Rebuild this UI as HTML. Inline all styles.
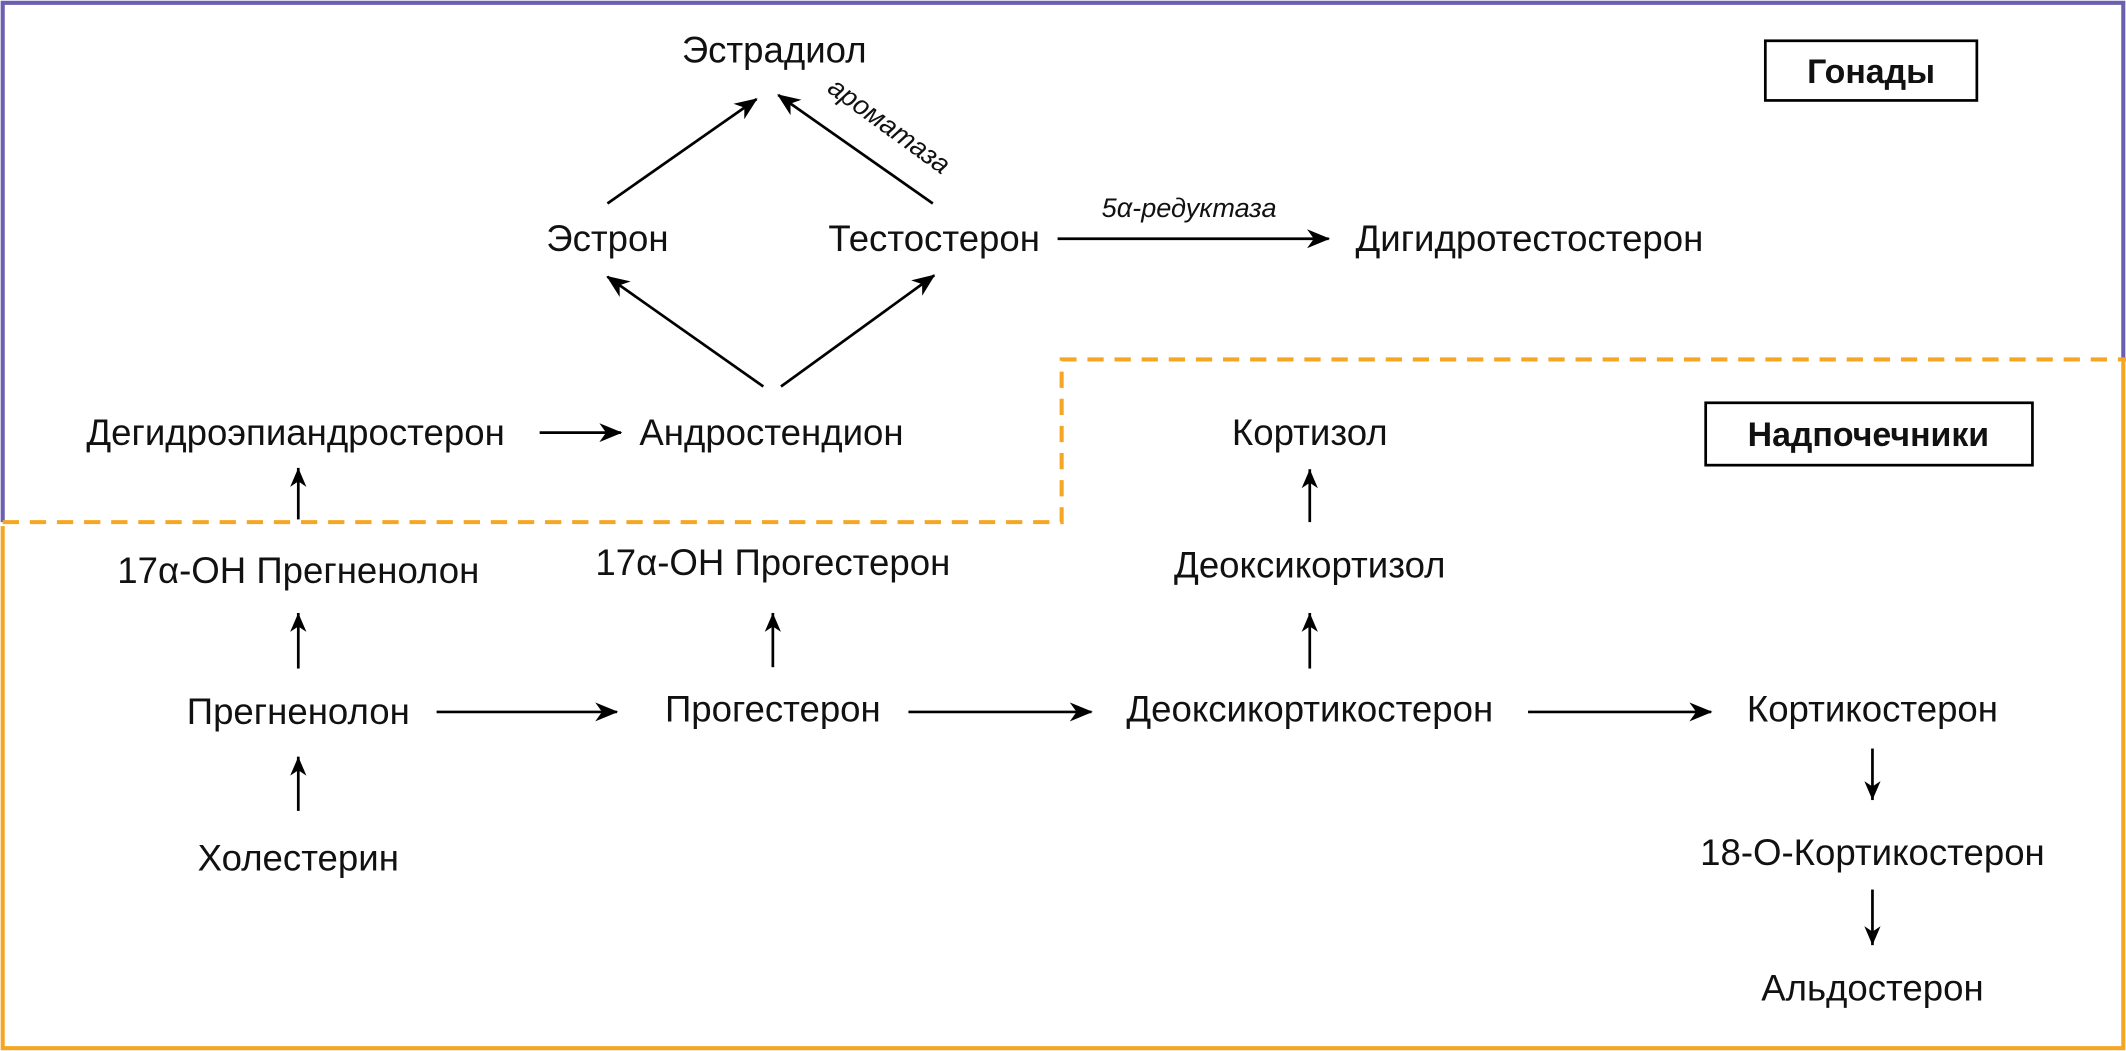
<!DOCTYPE html>
<html><head><meta charset="utf-8"><style>
html,body{margin:0;padding:0;background:#fff;}
svg{display:block;}
text{font-family:"Liberation Sans",sans-serif;font-size:27px;fill:#111;}
.i{font-style:italic;font-size:20px;}
.b{font-weight:bold;}
</style></head><body>
<svg width="2126" height="1051" viewBox="0 0 1568 775" xmlns="http://www.w3.org/2000/svg">
<defs><marker id="a" markerWidth="12" markerHeight="14" refX="6" refY="0" orient="0" markerUnits="userSpaceOnUse"><path d="M6,0 L12,14 L6,10 L0,14 z" fill="#000"/></marker>
<marker id="d" markerWidth="12" markerHeight="14" refX="6" refY="14" orient="0" markerUnits="userSpaceOnUse"><path d="M6,14 L12,0 L6,4 L0,0 z" fill="#000"/></marker>
<marker id="m" markerWidth="18" markerHeight="14" refX="16" refY="7" orient="auto" markerUnits="userSpaceOnUse"><path d="M0,0 L17,7 L0,14 L5,7 z" fill="#000"/></marker></defs>
<path d="M2,385 L2,2 L1566,2 L1566,265" fill="none" stroke="#6b5fb0" stroke-width="3"/>
<path d="M2,388 L2,773 L1566,773 L1566,265" fill="none" stroke="#f5a623" stroke-width="3"/>
<path d="M2,385 L783,385 L783,265 L1568,265" fill="none" stroke="#f5a623" stroke-width="3" stroke-dasharray="12,8"/>
<rect x="1302" y="30" width="156" height="44" fill="#fff" stroke="#000" stroke-width="2"/>
<text x="1380" y="61" text-anchor="middle" class="b" style="font-size:25px">Гонады</text>
<rect x="1258" y="297" width="241" height="46" fill="#fff" stroke="#000" stroke-width="2"/>
<text x="1378" y="329" text-anchor="middle" class="b" style="font-size:25px">Надпочечники</text>
<g text-anchor="middle">
<text x="571" y="46">Эстрадиол</text>
<text x="448" y="185">Эстрон</text>
<text x="689" y="185">Тестостерон</text>
<text x="1128" y="185">Дигидротестостерон</text>
<text x="218" y="328">Дегидроэпиандростерон</text>
<text x="569" y="328">Андростендион</text>
<text x="966" y="328">Кортизол</text>
<text x="220" y="430">17α-ОН Прегненолон</text>
<text x="570" y="424">17α-ОН Прогестерон</text>
<text x="966" y="426">Деоксикортизол</text>
<text x="220" y="534">Прегненолон</text>
<text x="570" y="532">Прогестерон</text>
<text x="966" y="532">Деоксикортикостерон</text>
<text x="1381" y="532">Кортикостерон</text>
<text x="220" y="642">Холестерин</text>
<text x="1381" y="638">18-О-Кортикостерон</text>
<text x="1381" y="738">Альдостерон</text>
<text class="i" x="877" y="160">5α-редуктаза</text>
<text class="i" transform="translate(652,98) rotate(36)">ароматаза</text>
</g>
<g stroke="#000" stroke-width="2" fill="none">
<line x1="448" y1="150" x2="558" y2="73" marker-end="url(#m)"/>
<line x1="688" y1="150" x2="574" y2="70" marker-end="url(#m)"/>
<line x1="780" y1="176" x2="980" y2="176" marker-end="url(#m)"/>
<line x1="563" y1="285" x2="448" y2="204" marker-end="url(#m)"/>
<line x1="576" y1="285" x2="689" y2="203" marker-end="url(#m)"/>
<line x1="398" y1="319" x2="458" y2="319" marker-end="url(#m)"/>
<line x1="220" y1="383" x2="220" y2="345" marker-end="url(#a)"/>
<line x1="220" y1="493" x2="220" y2="452" marker-end="url(#a)"/>
<line x1="220" y1="598" x2="220" y2="558" marker-end="url(#a)"/>
<line x1="570" y1="492" x2="570" y2="452" marker-end="url(#a)"/>
<line x1="966" y1="385" x2="966" y2="346" marker-end="url(#a)"/>
<line x1="966" y1="493" x2="966" y2="452" marker-end="url(#a)"/>
<line x1="322" y1="525" x2="455" y2="525" marker-end="url(#m)"/>
<line x1="670" y1="525" x2="805" y2="525" marker-end="url(#m)"/>
<line x1="1127" y1="525" x2="1262" y2="525" marker-end="url(#m)"/>
<line x1="1381" y1="552" x2="1381" y2="590" marker-end="url(#d)"/>
<line x1="1381" y1="656" x2="1381" y2="697" marker-end="url(#d)"/>
</g>
</svg>
</body></html>
